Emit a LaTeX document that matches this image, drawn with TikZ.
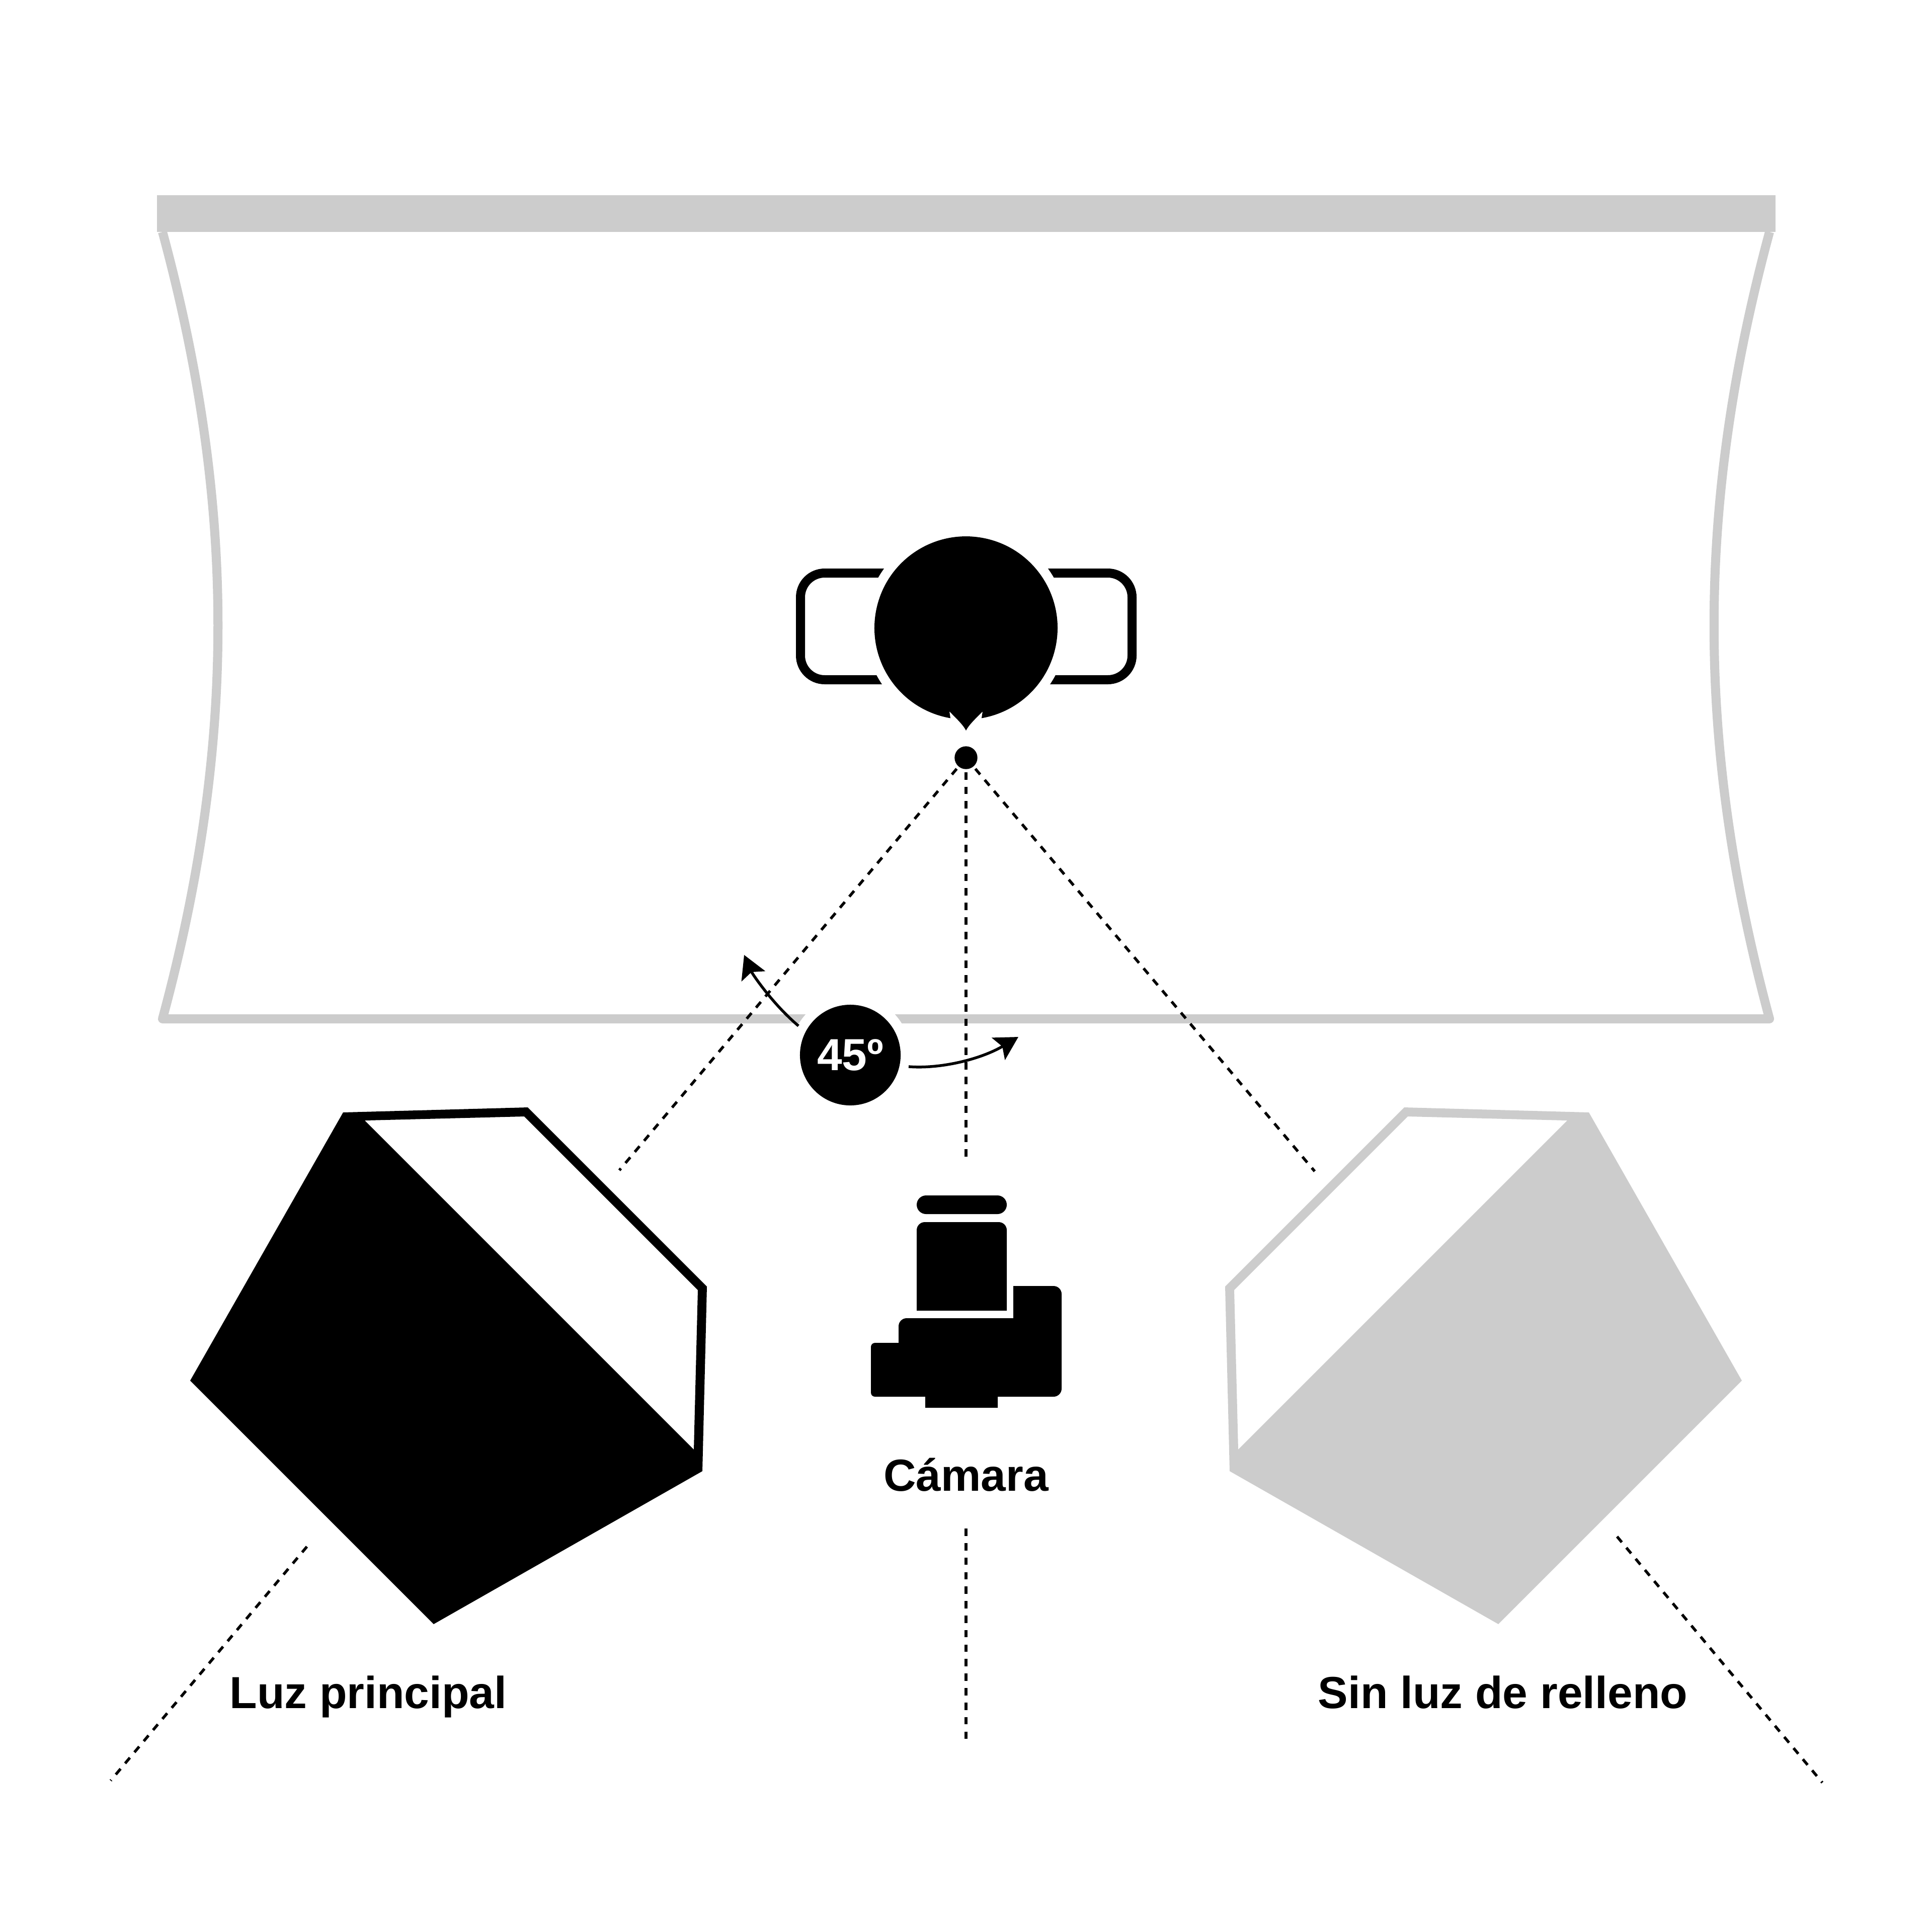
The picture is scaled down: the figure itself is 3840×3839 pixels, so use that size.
\documentclass[tikz,border=0pt]{standalone}
\usepackage{fontspec}
\setmainfont{Liberation Sans}
\usetikzlibrary{arrows.meta}
\definecolor{grisluz}{HTML}{CCCCCC}
\tikzset{
    rayo/.style={line width=0.055cm, dash pattern=on 0.147cm off 0.141cm},
    flecha/.style={line width=0.055cm, -{Stealth[length=0.46cm, width=0.51cm, inset=0.09cm]}},
    rotulo/.style={font=\bfseries\fontsize{25.4}{30}\selectfont, anchor=base, inner sep=0pt},
    camara/.style={fill=black, rounded corners=0.16cm}
}
\begin{document}
\begin{tikzpicture}[x=0.01cm, y=-0.01cm]
    \useasboundingbox (0,0) rectangle (3840,3839);
    \draw[grisluz, line width=0.18cm, line join=round] (323,461) .. controls (470,1005) and (470,1481) .. (323,2025) -- (3517,2025) .. controls (3370,1481) and (3370,1005) .. (3517,461);
    \fill[grisluz] (312,388) rectangle (3529,461);
    \draw[line width=0.18cm, rounded corners=0.48cm] (1591,1139) rectangle (2250,1351);
    \fill[white] (1920,1248) circle (201);
    \fill (1889,1427.4) arc (99.8:440.2:182) -- (1953,1414) .. controls (1935,1432) and (1925,1442) .. (1920,1452) .. controls (1915,1442) and (1905,1432) .. (1887,1414) -- cycle;
    \node[circle, fill=black, inner sep=0pt, minimum size=0.454cm] (punto) at (1920,1506) {};
    \coordinate (ojoC) at (1920,2302);
    \coordinate (ojoI) at (1231,2326);
    \coordinate (ojoD) at (2613,2328);
    \coordinate (pieC1) at (1920,3038);
    \coordinate (pieC2) at (1920,3457);
    \coordinate (pieI1) at (610,3074);
    \coordinate (pieI2) at (220,3539);
    \coordinate (pieD1) at (3214,3054);
    \coordinate (pieD2) at (3622,3543);
    \foreach \ini/\fin in {punto.center/ojoC, punto.center/ojoI, punto.center/ojoD, pieC1/pieC2, pieI1/pieI2, pieD1/pieD2}
        \draw[rayo] (\ini) -- (\fin);
    \fill[white] (1690,2097) circle (120);
    \node[circle, fill=black, inner sep=0pt, minimum size=2cm, text=white, font=\bfseries\fontsize{25.4}{30}\selectfont] (angulo) at (1690,2097) {45º};
    \coordinate (salidaI) at (1587,2039);
    \coordinate (salidaD) at (1806,2120);
    \coordinate (puntaI) at (1479,1898);
    \coordinate (puntaD) at (2024,2061);
    \draw[flecha] (salidaI) .. controls (1535,1995) and (1495,1935) .. (puntaI);
    \draw[flecha] (salidaD) .. controls (1870,2125) and (1950,2105) .. (puntaD);
    \fill[even odd rule] (682,2211) -- (1049,2201) -- (1405,2557) -- (1396,2924) -- (862,3228) -- (378,2744) -- cycle (725,2227) -- (1042,2219) -- (1387,2564) -- (1379,2881) -- cycle;
    \fill[grisluz, even odd rule] (3158,2211) -- (2791,2201) -- (2435,2557) -- (2444,2924) -- (2978,3228) -- (3462,2744) -- cycle (3115,2227) -- (2798,2219) -- (2453,2564) -- (2461,2881) -- cycle;
    \fill[camara, rounded corners=0.185cm] (1822,2376) rectangle (2001,2413);
    \fill[camara] (1822,2605) [sharp corners] -- (2001,2605) [rounded corners=0.16cm] -- (2001,2429) -- (1822,2429) [sharp corners] -- cycle;
    \fill (2014,2556) [rounded corners=0.16cm] -- (2110,2556) -- (2110,2776) [sharp corners] -- (1983,2776) -- (1983,2798) -- (1839,2798) -- (1839,2776) [rounded corners=0.08cm] -- (1731,2776) -- (1731,2669) [sharp corners] -- (1786,2669) [rounded corners=0.16cm] -- (1786,2620) [sharp corners] -- (2014,2620) -- cycle;
    \node[rotulo] (camaratxt) at (1920,2963) {Cámara};
    \node[rotulo] (principal) at (732,3395) {Luz principal};
    \node[rotulo] (relleno) at (2987,3395) {Sin luz de relleno};
\end{tikzpicture}
\end{document}
